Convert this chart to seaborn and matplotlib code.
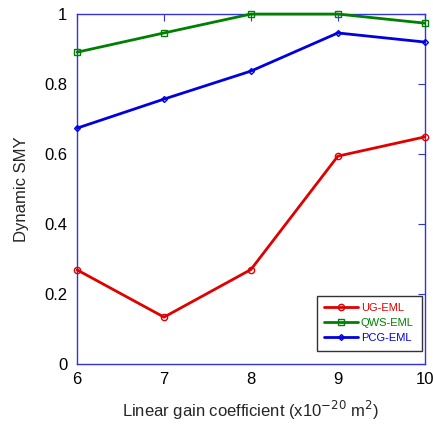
import matplotlib
matplotlib.use("Agg")
import matplotlib.pyplot as plt
import seaborn as sns
import pandas as pd

x_vals = [6, 7, 8, 9, 10]
ug_eml = [0.269, 0.134, 0.270, 0.594, 0.649]
qws_eml = [0.891, 0.946, 1.0, 1.0, 0.974]
pcg_eml = [0.674, 0.757, 0.837, 0.946, 0.920]
series_names = ["UG-EML", "QWS-EML", "PCG-EML"]
colors = ["#e00000", "#008000", "#0000e0"]
markers = ["o", "s", "D"]

sns.set_style("white")
plt.rcParams['font.family'] = ['Liberation Sans', 'DejaVu Sans']

df = pd.DataFrame({
    "x": x_vals * 3,
    "y": ug_eml + qws_eml + pcg_eml,
    "series": sum([[n] * len(x_vals) for n in series_names], []),
})

fig = plt.figure(figsize=(4.33, 4.26), dpi=100)
ax = fig.add_axes([0.178, 0.1455, 0.803, 0.8215])

for name, c, m in zip(series_names, colors, markers):
    sub = df[df.series == name]
    sns.lineplot(data=sub, x="x", y="y", ax=ax, color=c, linewidth=2,
                 marker=m, markersize=4.5 if m != "D" else 3,
                 markerfacecolor="none", markeredgecolor=c, markeredgewidth=1,
                 label=name, clip_on=False, zorder=3)

ax.set_xlim(6, 10)
ax.set_ylim(0, 1)
ax.set_xticks([6, 7, 8, 9, 10])
ax.set_yticks([0, 0.2, 0.4, 0.6, 0.8, 1])
ax.set_yticklabels(["0", "0.2", "0.4", "0.6", "0.8", "1"])
for s in ax.spines.values():
    s.set_color("#3333dd")
    s.set_linewidth(1)
ax.tick_params(direction="in", length=5, color="#3333dd", labelsize=12,
               top=True, right=True, labelcolor="black")
ax.tick_params(axis="y", pad=7)
ax.tick_params(axis="x", pad=6)
ax.set_xlabel("Linear gain coefficient (x10$^{-20}$ m$^{2}$)", fontsize=12, labelpad=8)
ax.set_ylabel("Dynamic SMY", fontsize=12, labelpad=11)

leg = ax.legend(loc="lower right", fontsize=8, frameon=True, fancybox=False,
                handlelength=3.0, handletextpad=0.3, borderpad=0.7, labelspacing=0.45,
                borderaxespad=0, bbox_to_anchor=(0.991, 0.037))
leg.get_frame().set_edgecolor("black")
leg.get_frame().set_linewidth(1)
for t, c in zip(leg.get_texts(), colors):
    t.set_color(c)

fig.savefig("out.png", dpi=100)
